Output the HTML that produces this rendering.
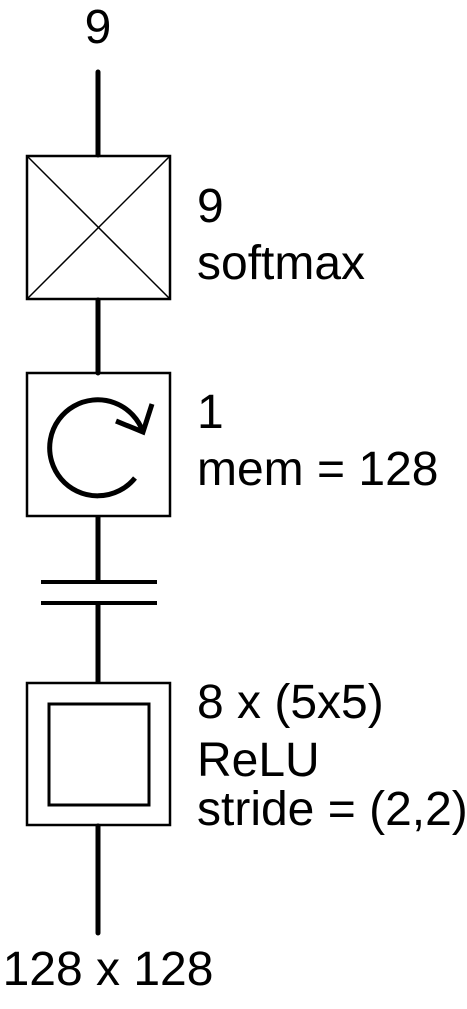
<!DOCTYPE html>
<html><head><meta charset="utf-8"><style>
html,body{margin:0;padding:0;background:#fff;}
svg{display:block;}
text{font-family:"Liberation Sans",Arial,sans-serif;font-size:48px;fill:#000;}
</style></head><body>
<svg width="467" height="1009" viewBox="0 0 467 1009">
<text x="98" y="43" text-anchor="middle">9</text>
<g stroke="#000" stroke-width="5" stroke-linecap="round" fill="none">
<line x1="98" y1="72" x2="98" y2="155"/>
<line x1="98" y1="300" x2="98" y2="373"/>
<line x1="98" y1="517" x2="98" y2="582" stroke-linecap="butt"/>
<line x1="98" y1="603" x2="98" y2="682" stroke-linecap="butt"/>
<line x1="98" y1="826" x2="98" y2="933"/>
</g>
<g stroke="#000" fill="none">
<rect x="27" y="156" width="143" height="143" stroke-width="2.5"/>
<line x1="27" y1="156" x2="170" y2="299" stroke-width="1.5"/>
<line x1="170" y1="156" x2="27" y2="299" stroke-width="1.5"/>
</g>
<text x="197" y="222">9</text>
<text x="197" y="279">softmax</text>
<g stroke="#000" fill="none">
<rect x="27" y="373" width="143" height="143" stroke-width="2.5"/>
<path d="M135,478 A48,48 0 1 1 143,432" stroke-width="5"/>
<polyline points="116,421 143,432 152,404" stroke-width="5"/>
</g>
<text x="197" y="428">1</text>
<text x="197" y="485">mem = 128</text>
<g stroke="#000" stroke-width="4">
<line x1="41" y1="582" x2="157" y2="582"/>
<line x1="41" y1="603" x2="157" y2="603"/>
</g>
<g stroke="#000" fill="none">
<rect x="27" y="683" width="143" height="142" stroke-width="2.5"/>
<rect x="49" y="704" width="100" height="101" stroke-width="3"/>
</g>
<text x="197" y="718">8 x (5x5)</text>
<text x="197" y="776">ReLU</text>
<text x="197" y="825">stride = (2,2)</text>
<text x="108" y="985" text-anchor="middle">128 x 128</text>
</svg>
</body></html>
